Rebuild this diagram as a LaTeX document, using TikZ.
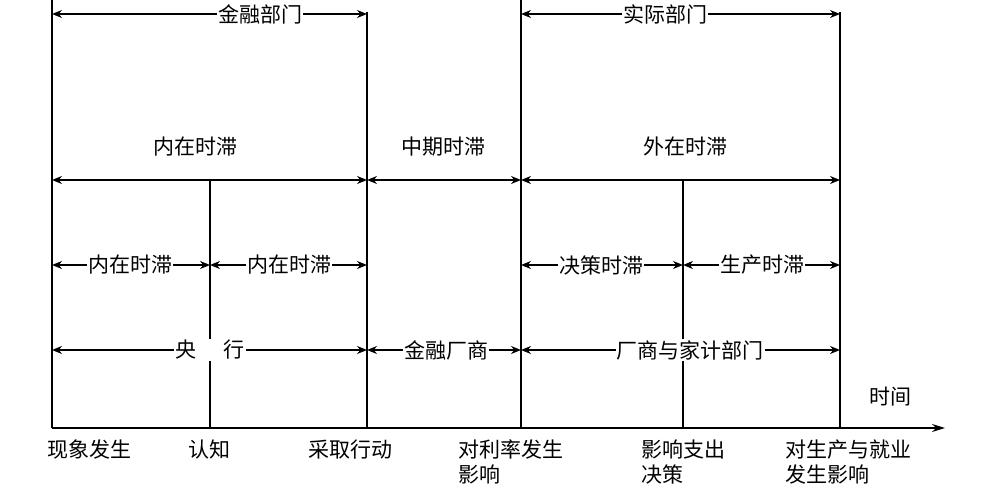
\documentclass[tikz,border=0pt]{standalone}
\usepackage{fontspec}
\newfontfamily\cjk{Noto Sans CJK SC}
\usetikzlibrary{arrows.meta}
\begin{document}
\begin{tikzpicture}[x=1pt,y=-1pt,
  ln/.style={line width=1.6pt},
  dar/.style={line width=1.6pt,{Stealth[length=10pt,width=8pt]}-{Stealth[length=10pt,width=8pt]}},
  lab/.style={font=\cjk\fontsize{21}{25}\selectfont,inner sep=2pt},
  onl/.style={lab,fill=white,inner sep=1pt},
  bl/.style={lab,anchor=north west,align=left,inner sep=0pt}]
\useasboundingbox (0,0) rectangle (987,500);
% vertical lines
\coordinate (a0) at (52,0); \coordinate (a1) at (52,428);
\coordinate (b0) at (210,180); \coordinate (b1) at (210,428);
\coordinate (c0) at (367,12); \coordinate (c1) at (367,428);
\coordinate (d0) at (521,0); \coordinate (d1) at (521,428);
\coordinate (e0) at (683,180); \coordinate (e1) at (683,428);
\coordinate (f0) at (840,12); \coordinate (f1) at (840,428);
\foreach \p in {a,b,c,d,e,f} \draw[ln] (\p0) -- (\p1);
% axis
\coordinate (ax) at (945,428);
\draw[ln,-{Stealth[length=13pt,width=8pt]}] (a1) -- (ax);
\node[lab] (t) at (890,397) {时间};
% top
\draw[dar] (52,14) -- (367,14);
\node[onl] (jr) at (260,14) {金融部门};
\draw[dar] (521,14) -- (840,14);
\node[onl] (sj) at (665,14) {实际部门};
% row 1
\draw[dar] (52,180) -- (367,180);
\draw[dar] (367,180) -- (521,180);
\draw[dar] (521,180) -- (840,180);
\node[lab] (n1) at (195,147) {内在时滞};
\node[lab] (n2) at (443,147) {中期时滞};
\node[lab] (n3) at (685,147) {外在时滞};
% row 2
\draw[dar] (52,265) -- (210,265);
\draw[dar] (210,265) -- (367,265);
\draw[dar] (521,265) -- (683,265);
\draw[dar] (683,265) -- (840,265);
\node[onl] (m1) at (130,265) {内在时滞};
\node[onl] (m2) at (289,265) {内在时滞};
\node[onl] (m3) at (601,265) {决策时滞};
\node[onl] (m4) at (762,265) {生产时滞};
% row 3
\draw[dar] (52,350) -- (367,350);
\draw[dar] (367,350) -- (521,350);
\draw[dar] (521,350) -- (840,350);
\node[onl] (r1) at (210,350) {央\hspace{1.3em}行};
\node[onl] (r2) at (446,350) {金融厂商};
\node[onl] (r3) at (690,350) {厂商与家计部门};
% bottom labels
\node[bl] (l1) at (47,440) {现象发生};
\node[bl] (l2) at (188,440) {认知};
\node[bl] (l3) at (308,440) {采取行动};
\node[bl] (l4) at (458,440) {对利率发生\\影响};
\node[bl] (l5) at (641,440) {影响支出\\决策};
\node[bl] (l6) at (785,440) {对生产与就业\\发生影响};
\end{tikzpicture}
\end{document}
